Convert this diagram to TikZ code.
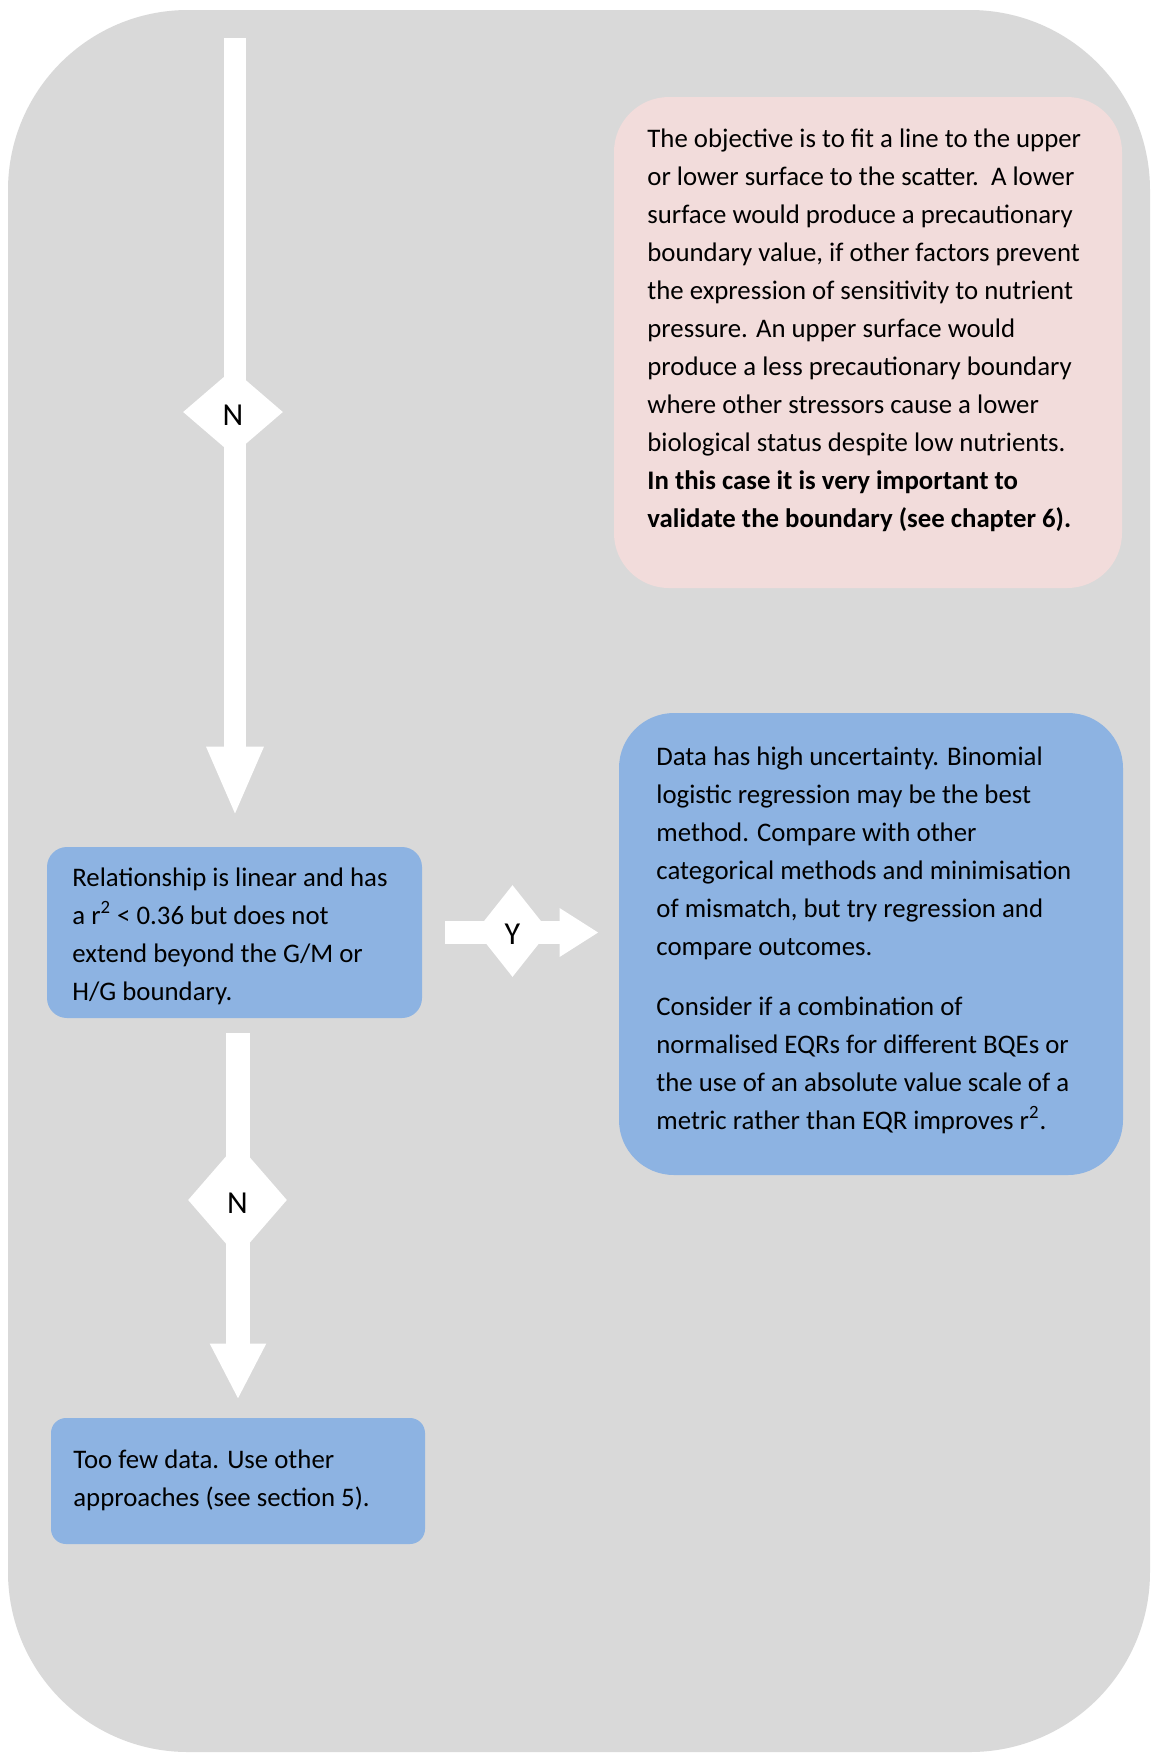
\documentclass[tikz,border=0pt]{standalone}
\usepackage{fontspec}
\setmainfont{Carlito}
\usetikzlibrary{shapes.geometric,arrows.meta,calc}
\definecolor{bggrey}{RGB}{217,217,217}
\definecolor{pinkbox}{RGB}{242,220,219}
\definecolor{bluebox}{RGB}{141,179,226}
\newcommand{\declabel}[1]{\smash{\raisebox{-6.5pt}{#1}}}
\begin{document}
\begin{tikzpicture}[x=0.5pt,y=-0.5pt,
  panel/.style={inner sep=0pt, draw=none},
  bodytext/.style={anchor=north west, inner sep=0pt, align=left,
    font=\fontsize{13.4}{19}\selectfont, text=black},
  dia/.style={diamond, fill=white, inner sep=0pt,
    font=\fontsize{16}{19}\selectfont, text=black},
  flowline/.style={draw=white, line width=#1},
]
\useasboundingbox[fill=white] (0,0) rectangle (1152,1753);
\fill[bggrey, rounded corners=90pt] (8,10) rectangle (1150,1752);

% boxes
\node[panel, fill=pinkbox, rounded corners=27.5pt, minimum width=254pt, minimum height=245.5pt] (pink) at (868,342.5) {};
\node[panel, fill=bluebox, rounded corners=10pt, minimum width=187.5pt, minimum height=85.5pt] (rel) at (234.5,932.5) {};
\node[panel, fill=bluebox, rounded corners=27.5pt, minimum width=252pt, minimum height=231pt] (uncert) at (871,944) {};
\node[panel, fill=bluebox, rounded corners=7.5pt, minimum width=187pt, minimum height=63pt] (few) at (238,1481) {};

% texts
\node[bodytext] (pinkT) at (647,120.4) {\strut The objective is to fit a line to the upper\\
or lower surface to the scatter.\ \ A lower\\
surface would produce a precautionary\\
boundary value, if other factors prevent\\
the expression of sensitivity to nutrient\\
pressure. An upper surface would\\
produce a less precautionary boundary\\
where other stressors cause a lower\\
biological status despite low nutrients.\\
\textbf{In this case it is very important to}\\
\textbf{validate the boundary (see chapter 6).}};

\node[bodytext] (relT) at (72,859.4) {\strut Relationship is linear and has\\
a r\textsuperscript{2} < 0.36 but does not\\
extend beyond the G/M or\\
H/G boundary.};

\node[bodytext] (uncertT) at (656,738.4) {\strut Data has high uncertainty. Binomial\\
logistic regression may be the best\\
method. Compare with other\\
categorical methods and minimisation\\
of mismatch, but try regression and\\
compare outcomes.\\[11pt]
Consider if a combination of\\
normalised EQRs for different BQEs or\\
the use of an absolute value scale of a\\
metric rather than EQR improves r\textsuperscript{2}.};

\node[bodytext] (fewT) at (73,1441.4) {\strut Too few data. Use other\\
approaches (see section 5).};

% connectors
\coordinate (topstart) at (235,38);
\draw[flowline=11pt, -{Triangle[length=35pt,width=26pt]}, shorten >=15pt]
  (topstart) -- (topstart |- rel.north);
\draw[flowline=11.5pt, -{Triangle[length=19.5pt,width=23pt]}, shorten <=11.5pt, shorten >=10pt]
  (rel.east) -- (rel.east -| uncert.west);
\draw[flowline=12pt, -{Triangle[length=28pt,width=26pt]}, shorten <=7.5pt, shorten >=9pt]
  (rel.south -| few.north) -- (few.north);

% decision labels
\node[dia, minimum width=50pt, minimum height=43pt] (dN1) at (233,412) {\declabel{N}};
\node[dia, minimum width=36.5pt, minimum height=46pt] (dY) at (512.5,931) {\declabel{Y}};
\node[dia, minimum width=49.5pt, minimum height=57pt] (dN2) at (237.5,1200) {\declabel{N}};
\end{tikzpicture}
\end{document}
